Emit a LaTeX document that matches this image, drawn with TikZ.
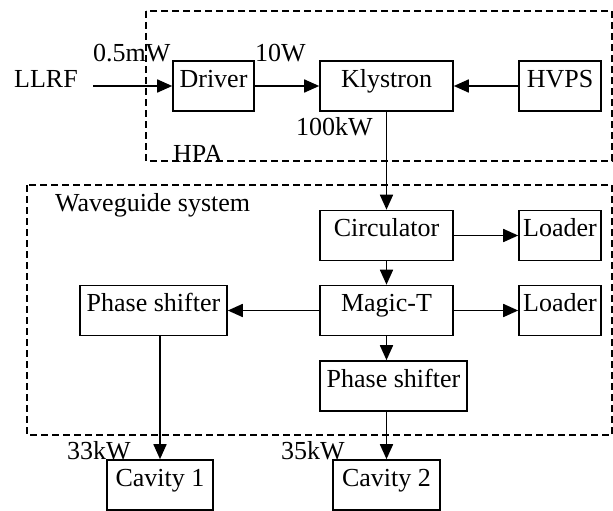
\documentclass[tikz,border=0pt]{standalone}
\usepackage{fontspec}
\setmainfont{Liberation Serif}
\usetikzlibrary{arrows.meta}

\tikzset{
  blk/.style={draw,line width=1.6pt,inner sep=0pt,text height=26pt,text depth=24pt},
  lbl/.style={anchor=base west,inner sep=0pt},
  arr/.style={line width=1.7pt,-{Triangle[length=15pt,width=13pt]}},
  grp/.style={line width=1.6pt,dash pattern=on 7pt off 4pt}
}

\begin{document}
\begin{tikzpicture}[x=1pt,y=-1pt,font=\fontsize{26pt}{30pt}\selectfont]
\useasboundingbox (0,0) rectangle (613,511);

% dashed groups
\draw[grp] (146,11) rectangle (612,161);
\draw[grp] (27,185) rectangle (612,435);

% HPA
\node[blk,minimum width=81pt] (driver) at (213.5,86) {Driver};
\node[blk,minimum width=133pt] (kly) at (386.5,86) {Klystron};
\node[blk,minimum width=82pt] (hvps) at (560,86) {HVPS};

% waveguide system
\node[blk,minimum width=133pt] (circ) at (386.5,235.5) {Circulator};
\node[blk,minimum width=82pt] (loadA) at (560,235.5) {Loader};
\node[blk,minimum width=133pt] (magic) at (386.5,310.5) {Magic-T};
\node[blk,minimum width=82pt] (loadB) at (560,310.5) {Loader};
\node[blk,minimum width=147pt] (psA) at (153.5,310.5) {Phase shifter};
\node[blk,minimum width=147pt] (psB) at (393.5,386) {Phase shifter};

% cavities
\node[blk,minimum width=106pt] (cavA) at (160,485) {Cavity 1};
\node[blk,minimum width=107pt] (cavB) at (386.5,485) {Cavity 2};

% labels
\node[lbl] (llrf) at (14,87) {LLRF};
\node[lbl] (pin) at (93,62) {0.5mW};
\node[lbl] (pdrv) at (255,62) {10W};
\node[lbl] (pkly) at (296,135) {100kW};
\node[lbl] (hpa) at (173,162) {HPA};
\node[lbl] (wg) at (55,211) {Waveguide system};
\node[lbl] (pA) at (67,459) {33kW};
\node[lbl] (pB) at (281,459) {35kW};

\coordinate (rfin) at (93,86);

% connectors
\draw[arr] (rfin) -- (driver);
\draw[arr] (driver) -- (kly);
\draw[arr] (hvps) -- (kly);
\draw[arr] (kly) -- (circ);
\draw[arr] (circ) -- (loadA);
\draw[arr] (circ) -- (magic);
\draw[arr] (magic) -- (loadB);
\draw[arr] (magic) -- (psA);
\draw[arr] (magic) -- (magic.south |- psB.north);
\draw[arr] (cavA.north |- psA.south) -- (cavA);
\draw[arr] (psB.south -| cavB.north) -- (cavB);
\end{tikzpicture}
\end{document}
